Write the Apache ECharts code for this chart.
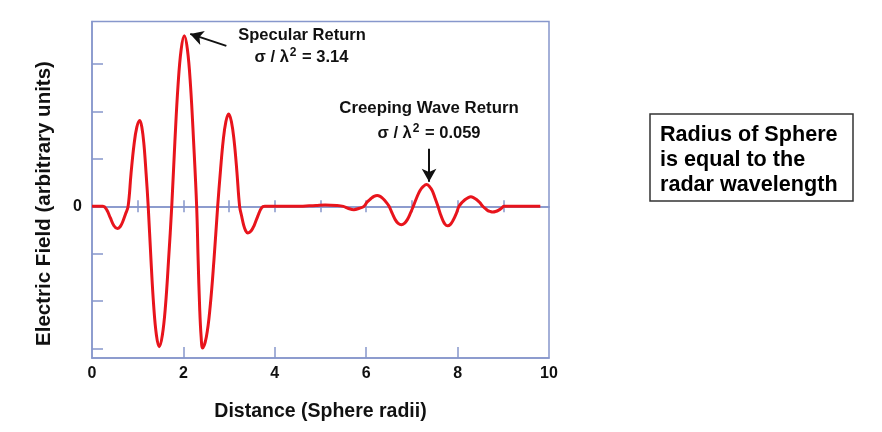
<!DOCTYPE html>
<html>
<head>
<meta charset="utf-8">
<script src="https://cdn.jsdelivr.net/npm/echarts@6/dist/echarts.min.js"></script>
<style>
html,body{margin:0;padding:0;background:#fff;}
#c{width:882px;height:432px;}
</style>
</head>
<body>
<div id="c"></div>
<script>
// Distance (sphere radii) and electric field (arbitrary units)
var distance = [
  0, 0.24, 0.32, 0.40, 0.48, 0.555, 0.615, 0.67, 0.73, 0.79,
  0.854, 0.918, 0.981, 1.045, 1.091, 1.138, 1.184, 1.23,
  1.29, 1.35, 1.41, 1.47, 1.539, 1.608, 1.676, 1.745,
  1.814, 1.883, 1.951, 2.02, 2.088, 2.155, 2.223, 2.29,
  2.323, 2.355, 2.388, 2.42, 2.503, 2.585, 2.668, 2.75,
  2.81, 2.87, 2.93, 2.99, 3.05, 3.11, 3.17, 3.23,
  3.275, 3.32, 3.365, 3.41, 3.48, 3.55, 3.63, 3.71, 3.78,
  4.5, 4.9, 5.1, 5.35, 5.5, 5.6, 5.73, 5.85, 5.95,
  6.02, 6.1, 6.17, 6.24, 6.305, 6.37, 6.435, 6.5,
  6.57, 6.635, 6.7, 6.77, 6.835, 6.9, 6.965, 7.03,
  7.1, 7.175, 7.25, 7.32, 7.383, 7.445, 7.508, 7.57,
  7.623, 7.675, 7.728, 7.78, 7.843, 7.905, 7.968, 8.03,
  8.095, 8.16, 8.225, 8.29, 8.355, 8.42, 8.485, 8.55,
  8.61, 8.66, 8.72, 8.77, 8.83, 8.9, 8.96, 9.02, 9.81
];
var field = [
  0, 0, -0.07, -0.24, -0.41, -0.47, -0.43, -0.33, -0.17, 0,
  0.69, 1.29, 1.67, 1.81, 1.67, 1.29, 0.69, 0,
  -1.12, -2.1, -2.72, -2.96, -2.72, -2.1, -1.12, 0,
  1.37, 2.56, 3.31, 3.6, 3.31, 2.56, 1.37, 0,
  -1.14, -2.12, -2.75, -2.99, -2.75, -2.12, -1.14, 0,
  0.74, 1.38, 1.79, 1.95, 1.79, 1.38, 0.74, 0,
  -0.21, -0.4, -0.52, -0.56, -0.52, -0.4, -0.2, -0.03, 0,
  0, 0.02, 0.03, 0.02, 0, -0.04, -0.07, -0.04, 0,
  0.09, 0.16, 0.21, 0.23, 0.21, 0.16, 0.09, 0,
  -0.15, -0.28, -0.36, -0.39, -0.36, -0.28, -0.15, 0,
  0.17, 0.33, 0.42, 0.46, 0.42, 0.33, 0.17, 0,
  -0.16, -0.29, -0.38, -0.41, -0.38, -0.29, -0.16, 0,
  0.08, 0.14, 0.18, 0.2, 0.18, 0.14, 0.08, 0,
  -0.05, -0.09, -0.11, -0.12, -0.11, -0.08, -0.04, 0, 0
];
var xTickLabels = [0, 2, 4, 6, 8, 10];
var xBottomTicks = [2, 4, 6, 8];
var yTickValues = [-3, -2, -1, 0, 1, 2, 3];
var yLabelValues = [0];
var zeroLineTicks = [1, 2, 3, 4, 5, 6, 7, 8, 9];

var axisBlue = '#8797cc';
var font = 'Liberation Sans, Arial, sans-serif';

var points = distance.map(function (d, i) { return [d, field[i]]; });

function zeroAxis(position, yIndex) {
  return {
    type: 'value', min: 0, max: 10, interval: 1, position: position,
    axisLine: { onZero: true, onZeroAxisIndex: yIndex, lineStyle: { color: axisBlue, width: 1.5 } },
    axisTick: { inside: true, length: 6, lineStyle: { color: axisBlue, width: 1.5 }, customValues: zeroLineTicks },
    axisLabel: { show: false },
    splitLine: { show: false }
  };
}

var chart = echarts.init(document.getElementById('c'));
chart.setOption({
  animation: false,
  grid: { left: 92, right: 333, top: 21.5, bottom: 74, show: true, borderColor: axisBlue, borderWidth: 1.5, backgroundColor: 'transparent' },
  xAxis: [
    {
      type: 'value', min: 0, max: 10, interval: 2, position: 'bottom',
      axisLine: { onZero: false, lineStyle: { color: axisBlue, width: 1.5 } },
      axisTick: { inside: true, length: 11, lineStyle: { color: axisBlue, width: 1.5 }, customValues: xBottomTicks },
      axisLabel: { color: '#111', fontWeight: 'bold', fontSize: 16, fontFamily: font, margin: 8, customValues: xTickLabels },
      splitLine: { show: false },
      name: 'Distance (Sphere radii)', nameLocation: 'middle', nameGap: 44,
      nameTextStyle: { color: '#111', fontWeight: 'bold', fontSize: 19.5, fontFamily: font }
    },
    zeroAxis('bottom', 0),
    zeroAxis('top', 1)
  ],
  yAxis: [
    {
      type: 'value', min: -3.2, max: 3.9,
      axisLine: { onZero: false, lineStyle: { color: axisBlue, width: 1.5 } },
      axisTick: { inside: true, length: 11, lineStyle: { color: axisBlue, width: 1.5 }, customValues: yTickValues },
      axisLabel: { color: '#111', fontWeight: 'bold', fontSize: 16, fontFamily: font, margin: 10, customValues: yLabelValues },
      splitLine: { show: false }
    },
    {
      type: 'value', min: -3.2, max: 3.9, position: 'right',
      axisLine: { show: false, onZero: false }, axisTick: { show: false }, axisLabel: { show: false }, splitLine: { show: false }
    }
  ],
  series: [{
    type: 'line', data: points, smooth: 0.4, symbol: 'none', z: 5,
    lineStyle: { color: '#e8141c', width: 3 },
    markLine: {
      silent: true, symbol: ['none', 'arrow'], symbolSize: [11, 13], label: { show: false },
      lineStyle: { color: '#111', width: 2, type: 'solid' },
      data: [
        [{ coord: [2.94, 3.385] }, { coord: [2.149, 3.638] }],
        [{ coord: [7.375, 1.217] }, { coord: [7.375, 0.52] }]
      ]
    }
  }],
  graphic: [
    { type: 'text', x: 302, y: 35, style: { text: 'Specular Return', align: 'center', verticalAlign: 'middle', fill: '#111', font: 'bold 16.5px ' + font } },
    { type: 'text', x: 301.5, y: 57, style: { text: '{a|σ / λ}{s|2}{a| = 3.14}', align: 'center', verticalAlign: 'middle', rich: { a: { fill: '#111', fontWeight: 'bold', fontSize: 16.5, fontFamily: font }, s: { fill: '#111', fontWeight: 'bold', fontSize: 12, fontFamily: font, padding: [0, 1, 9, 1] } } } },
    { type: 'text', x: 429, y: 108, style: { text: 'Creeping Wave Return', align: 'center', verticalAlign: 'middle', fill: '#111', font: 'bold 16.8px ' + font } },
    { type: 'text', x: 429, y: 133, style: { text: '{a|σ / λ}{s|2}{a| = 0.059}', align: 'center', verticalAlign: 'middle', rich: { a: { fill: '#111', fontWeight: 'bold', fontSize: 16.5, fontFamily: font }, s: { fill: '#111', fontWeight: 'bold', fontSize: 12, fontFamily: font, padding: [0, 1, 9, 1] } } } },
    { type: 'text', x: 44, y: 203.5, rotation: Math.PI / 2, style: { text: 'Electric Field (arbitrary units)', align: 'center', verticalAlign: 'middle', fill: '#111', font: 'bold 20.5px ' + font } },
    { type: 'rect', shape: { x: 650, y: 114, width: 203, height: 87 }, style: { fill: '#fff', stroke: '#333', lineWidth: 1.5 } },
    { type: 'text', x: 660, y: 135, style: { text: 'Radius of Sphere', align: 'left', verticalAlign: 'middle', fill: '#000', font: 'bold 21.6px ' + font } },
    { type: 'text', x: 660, y: 160, style: { text: 'is equal to the', align: 'left', verticalAlign: 'middle', fill: '#000', font: 'bold 21.6px ' + font } },
    { type: 'text', x: 660, y: 185, style: { text: 'radar wavelength', align: 'left', verticalAlign: 'middle', fill: '#000', font: 'bold 21.6px ' + font } }
  ]
});
</script>
</body>
</html>
